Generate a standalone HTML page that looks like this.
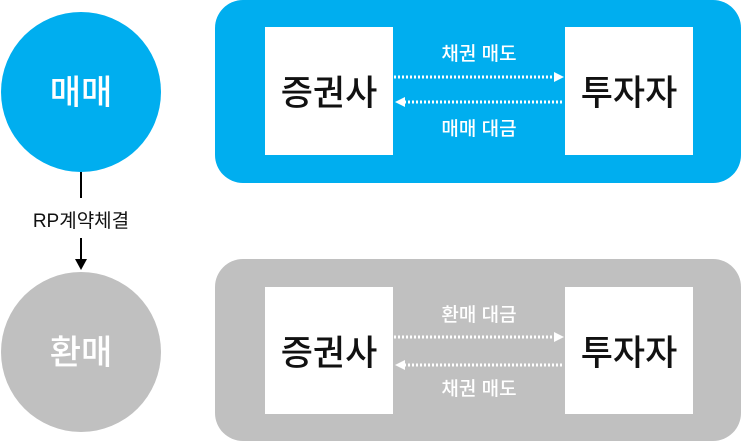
<!DOCTYPE html>
<html><head><meta charset="utf-8"><style>
body{margin:0;background:#fff;}
svg{display:block;}
text{font-family:"Liberation Sans","Noto Sans CJK KR",sans-serif;}
</style></head><body>
<svg width="743" height="442" viewBox="0 0 743 442">
<circle cx="81" cy="92" r="80" fill="#00aeef"/>
<text x="81" y="104" text-anchor="middle" font-size="34" font-weight="500" fill="#fff">매매</text>
<circle cx="81" cy="352" r="80" fill="#c0c0c0"/>
<text x="81" y="364" text-anchor="middle" font-size="34" font-weight="500" fill="#fff">환매</text>
<line x1="81" y1="172" x2="81" y2="198" stroke="#000" stroke-width="2"/>
<text x="81" y="227" text-anchor="middle" font-size="19" fill="#111">RP계약체결</text>
<line x1="81" y1="238" x2="81" y2="260" stroke="#000" stroke-width="2"/>
<polygon points="75,259 87,259 81,270" fill="#000"/>

<rect x="215" y="0" width="526" height="183" rx="28" fill="#00aeef"/>
<rect x="265" y="27" width="128" height="128" fill="#fff"/>
<rect x="565" y="27" width="128" height="128" fill="#fff"/>
<text x="329" y="105" text-anchor="middle" font-size="35" font-weight="500" fill="#111">증권사</text>
<text x="629" y="105" text-anchor="middle" font-size="35" font-weight="500" fill="#111">투자자</text>
<text x="479" y="60" text-anchor="middle" font-size="19" font-weight="500" fill="#fff">채권 매도</text>
<text x="479" y="135" text-anchor="middle" font-size="19" font-weight="500" fill="#fff">매매 대금</text>
<line x1="394" y1="77" x2="555" y2="77" stroke="#fff" stroke-width="3" stroke-dasharray="2,2"/>
<polygon points="554,72 564,77 554,82" fill="#fff"/>
<line x1="404" y1="102" x2="564" y2="102" stroke="#fff" stroke-width="3" stroke-dasharray="2,2"/>
<polygon points="405,97 395,102 405,107" fill="#fff"/>

<rect x="215" y="259" width="526" height="182" rx="28" fill="#c0c0c0"/>
<rect x="265" y="287" width="128" height="127" fill="#fff"/>
<rect x="565" y="287" width="128" height="127" fill="#fff"/>
<text x="329" y="365" text-anchor="middle" font-size="35" font-weight="500" fill="#111">증권사</text>
<text x="629" y="365" text-anchor="middle" font-size="35" font-weight="500" fill="#111">투자자</text>
<text x="479" y="321" text-anchor="middle" font-size="19" font-weight="500" fill="#fff">환매 대금</text>
<text x="479" y="395" text-anchor="middle" font-size="19" font-weight="500" fill="#fff">채권 매도</text>
<line x1="394" y1="337" x2="555" y2="337" stroke="#fff" stroke-width="3" stroke-dasharray="2,2"/>
<polygon points="554,332 564,337 554,342" fill="#fff"/>
<line x1="404" y1="365" x2="564" y2="365" stroke="#fff" stroke-width="3" stroke-dasharray="2,2"/>
<polygon points="405,360 395,365 405,370" fill="#fff"/>
</svg>
</body></html>
